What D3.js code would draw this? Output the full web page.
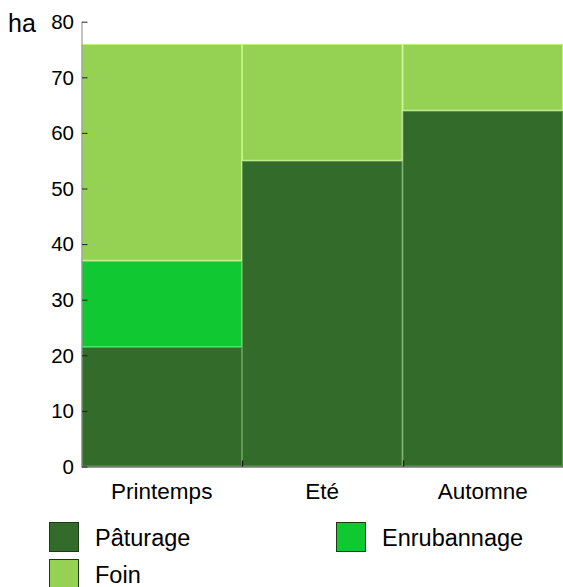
<!DOCTYPE html>
<html><head><meta charset="utf-8">
<script src="https://cdn.jsdelivr.net/npm/d3@7"></script>
<style>body{margin:0;background:#fff}svg{display:block;font-family:"Liberation Sans",Arial,sans-serif}</style>
</head><body><svg id="c" width="563" height="587"></svg>
<script>
const categories = ["Printemps", "Eté", "Automne"];
const seriesNames = ["Pâturage", "Enrubannage", "Foin"];
const paturage = [21.5, 55, 64];
const enrubannage = [15.5, 0, 0];
const foin = [39, 21, 12];
const yTicks = [0, 10, 20, 30, 40, 50, 60, 70, 80];
const unitLabel = "ha";
const fills = ["#336b2a", "#10c832", "#95d152"];
const strokes = ["#5e9a52", "#45e860", "#bff27f"];

const svg = d3.select("#c");
const L = 81.5, R = 563, T = 21.7, B = 466.5;
const x = d3.scaleBand().domain(categories).range([L, R]).padding(0);
const y = d3.scaleLinear().domain([0, 80]).range([B, T]);

const rows = categories.map((c, i) => ({cat: c, "Pâturage": paturage[i], "Enrubannage": enrubannage[i], "Foin": foin[i]}));
const stack = d3.stack().keys(seriesNames)(rows);

stack.forEach((s, si) => {
  svg.append("g").selectAll("rect").data(s.filter(d => d[1] - d[0] > 0)).join("rect")
    .attr("x", d => x(d.data.cat) + 0.5)
    .attr("width", x.bandwidth() - 1)
    .attr("y", d => y(d[1]) + 0.5)
    .attr("height", d => y(d[0]) - y(d[1]) - 1)
    .attr("fill", fills[si])
    .attr("stroke", strokes[si])
    .attr("stroke-width", 1);
});

// y axis
const ya = svg.append("g").attr("transform", `translate(${L},0)`)
  .call(d3.axisRight(y).tickValues(yTicks).tickSize(6).tickFormat(""));
ya.select(".domain").attr("stroke", "#8a8a8a").attr("d", `M0.5,${T}V${B}`);
ya.selectAll(".tick line").attr("stroke", "#222").attr("x1", 0.5).attr("x2", 6);
svg.append("g").selectAll("text").data(yTicks).join("text")
  .attr("x", 74).attr("y", d => y(d) + 7.3)
  .attr("text-anchor", "end").attr("font-size", 20.5).attr("fill", "#000")
  .text(d => d);
svg.append("text").attr("x", 8).attr("y", 31.5).attr("font-size", 25).attr("fill", "#000").text(unitLabel);

// x axis
svg.append("line").attr("x1", L).attr("x2", R).attr("y1", B + 0.5).attr("y2", B + 0.5).attr("stroke", "#333").attr("stroke-width", 1.2);
const bounds = categories.slice(1).map(c => x(c));
svg.append("g").selectAll("line").data(bounds).join("line")
  .attr("x1", d => Math.round(d) + 0.5).attr("x2", d => Math.round(d) + 0.5)
  .attr("y1", B).attr("y2", B - 6).attr("stroke", "#111").attr("stroke-width", 1.2);
svg.append("g").selectAll("text").data(categories).join("text")
  .attr("x", d => x(d) + x.bandwidth() / 2).attr("y", 498.5)
  .attr("text-anchor", "middle").attr("font-size", 22.5).attr("fill", "#000")
  .text(d => d);

// legend
const legPos = [[49, 522], [336, 522], [49, 559]];
const lg = svg.append("g").selectAll("g").data(seriesNames).join("g")
  .attr("transform", (d, i) => `translate(${legPos[i][0]},${legPos[i][1]})`);
lg.append("rect").attr("x", 0.5).attr("y", 0.5).attr("width", 29).attr("height", 29)
  .attr("fill", (d, i) => fills[i]).attr("stroke", "#1d3a17").attr("stroke-width", 1);
lg.append("text").attr("x", 46).attr("y", 24).attr("font-size", 23.5).attr("fill", "#000").text(d => d);
</script></body></html>
